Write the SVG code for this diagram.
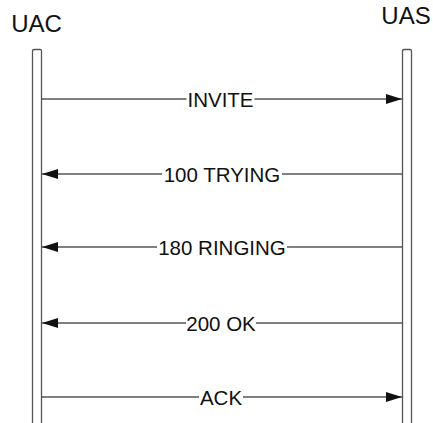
<svg xmlns="http://www.w3.org/2000/svg" width="433" height="423" viewBox="0 0 433 423">
<defs>
<style>
.lbl{font-family:"Liberation Sans",Arial,sans-serif;fill:#111;text-anchor:middle}
.head{font-size:24px}
.msg{font-size:20.5px}
.life{fill:#fff;stroke:#555;stroke-width:1.3}
.ln{stroke:#555;stroke-width:1.3;fill:none}
.bg{fill:#fff}
</style>
<marker id="ah" markerWidth="16" markerHeight="10" refX="16" refY="5" orient="auto" markerUnits="userSpaceOnUse">
<path d="M0,0 L16,5 L0,10 Z" fill="#111"/>
</marker>
</defs>
<g id="UAC">
<text class="lbl head" x="36.5" y="32">UAC</text>
<rect class="life" x="32.5" y="49.5" width="9" height="390" rx="1.5"/>
</g>
<g id="UAS">
<text class="lbl head" x="406" y="24">UAS</text>
<rect class="life" x="402.5" y="49.5" width="9" height="390" rx="1.5"/>
</g>
<g id="connectors">
<g id="m1">
<line class="ln" x1="42" y1="99" x2="402" y2="99" marker-end="url(#ah)"/>
<rect class="bg" x="186.5" y="89" width="68" height="20"/>
<text class="lbl msg" x="220.5" y="106.5">INVITE</text>
</g>
<g id="m2">
<line class="ln" x1="402" y1="174" x2="42" y2="174" marker-end="url(#ah)"/>
<rect class="bg" x="162" y="164" width="120" height="20"/>
<text class="lbl msg" x="222" y="181.5">100 TRYING</text>
</g>
<g id="m3">
<line class="ln" x1="402" y1="247" x2="42" y2="247" marker-end="url(#ah)"/>
<rect class="bg" x="157" y="237" width="130" height="20"/>
<text class="lbl msg" x="222" y="254.5">180 RINGING</text>
</g>
<g id="m4">
<line class="ln" x1="402" y1="323" x2="42" y2="323" marker-end="url(#ah)"/>
<rect class="bg" x="186" y="313" width="70" height="20"/>
<text class="lbl msg" x="221" y="330.5">200 OK</text>
</g>
<g id="m5">
<line class="ln" x1="42" y1="397" x2="402" y2="397" marker-end="url(#ah)"/>
<rect class="bg" x="199" y="387" width="44" height="20"/>
<text class="lbl msg" x="221" y="404.5">ACK</text>
</g>
</g>
</svg>
